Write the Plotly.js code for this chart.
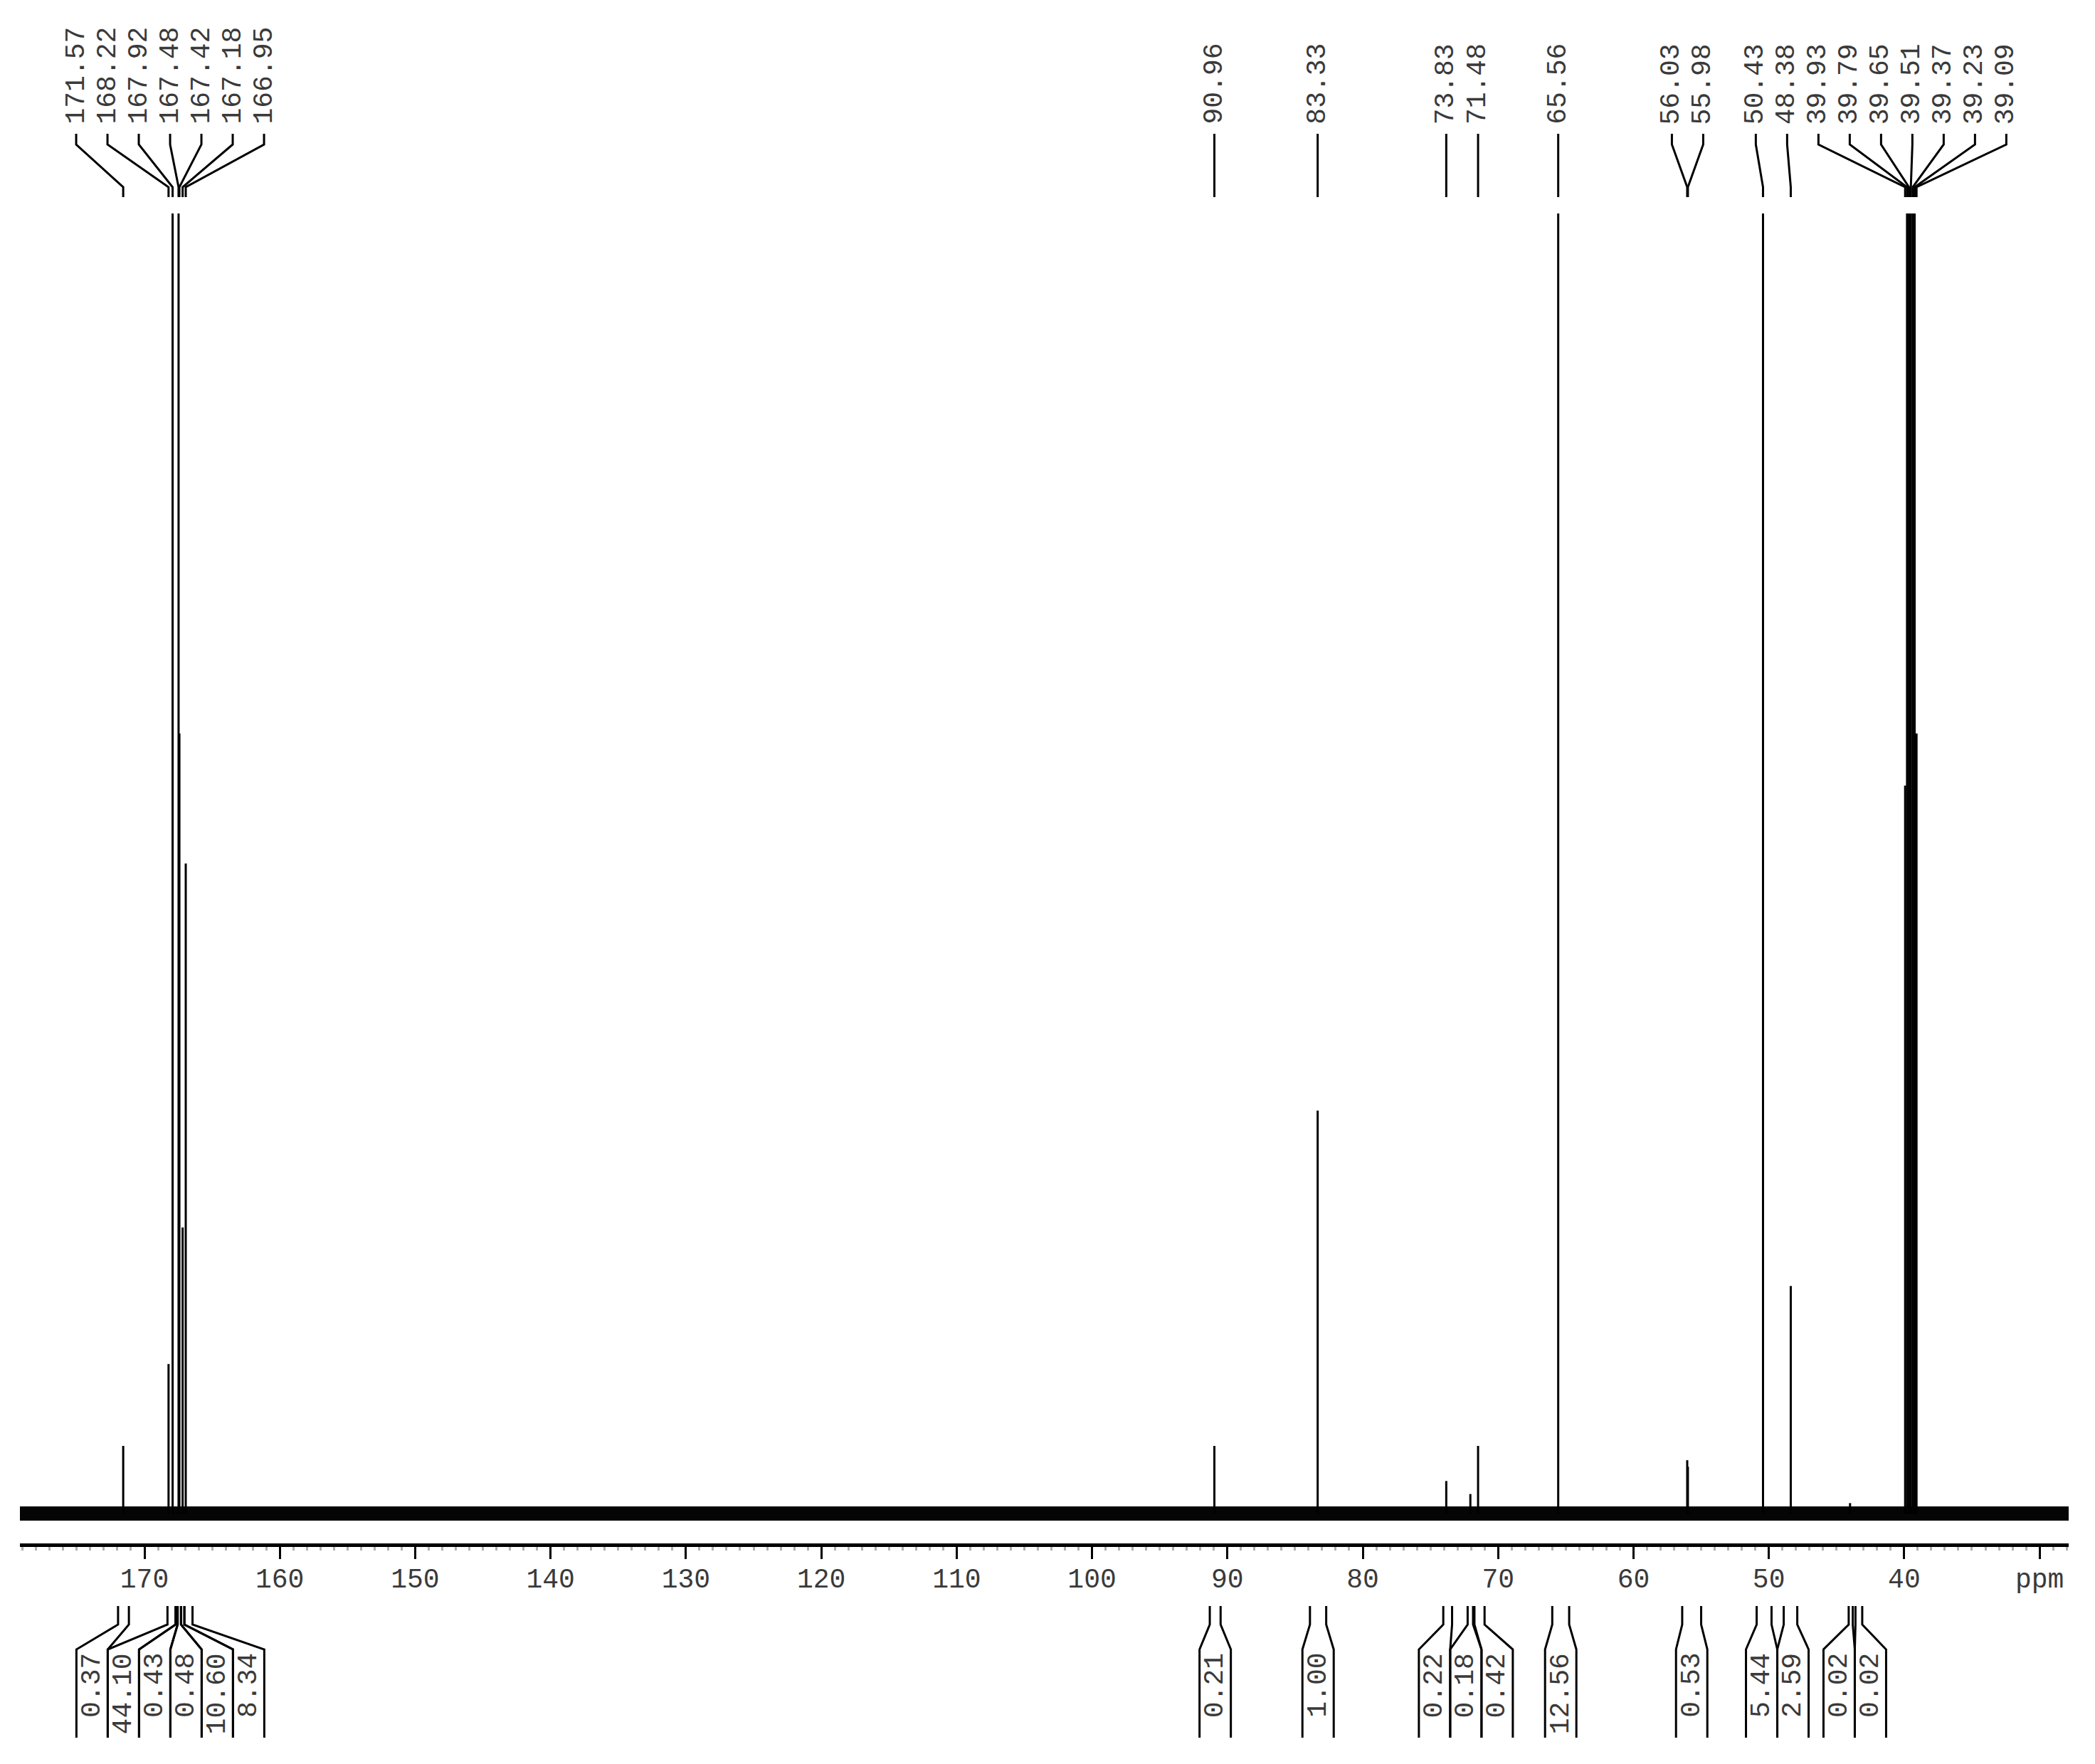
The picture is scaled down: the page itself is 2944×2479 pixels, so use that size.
<!DOCTYPE html>
<html>
<head>
<meta charset="utf-8">
<script src="https://cdn.plot.ly/plotly-3.0.1.min.js"></script>
<style>
  html, body { margin: 0; padding: 0; background: #fff; }
  #chart { width: 2944px; height: 2479px; }
</style>
</head>
<body>
<div id="chart"></div>
<script>
// 13C NMR spectrum, DMSO-d6 — peak picking on top, integrals below the axis

// labelled lines: shift (ppm) and height (100 = top of the frame, taller ones are clipped)
const peakPpm = [171.57, 168.22, 167.92, 167.48, 167.42, 167.18, 166.95,
    90.96, 83.33, 73.83, 71.48, 65.56, 56.03, 55.98, 50.43, 48.38,
    39.93, 39.79, 39.65, 39.51, 39.37, 39.23, 39.09];
const peakHeight = [5.2, 11.5, 140, 140, 60, 22, 50,
    5.2, 31, 2.5, 5.2, 140, 4.1, 3.6, 140, 17.5,
    56, 170, 300, 350, 300, 170, 60];

// small lines without a label
const extraPpm = [72.05, 44.0];
const extraHeight = [1.5, 0.8];

// integral regions (ppm) and their values
const intFrom = [171.95, 168.30, 167.70, 167.55, 167.30, 167.05,
    91.30, 83.90, 74.05, 72.25, 71.75, 66.00, 56.40, 50.90, 48.90, 44.10, 43.60];
const intTo = [171.15, 167.70, 167.55, 167.30, 167.05, 166.45,
    90.50, 82.70, 73.40, 71.85, 71.00, 64.75, 55.00, 49.80, 47.90, 43.80, 43.10];
const intValue = ['0.37', '44.10', '0.43', '0.48', '10.60', '8.34',
    '0.21', '1.00', '0.22', '0.18', '0.42', '12.56', '0.53', '5.44', '2.59', '0.02', '0.02'];

// axis ticks
const tickVals = [170, 160, 150, 140, 130, 120, 110, 100, 90, 80, 70, 60, 50, 40, 30];
const tickText = ['170', '160', '150', '140', '130', '120', '110', '100', '90', '80', '70', '60', '50', '40', 'ppm'];

// ── frame geometry (px) ──
const W = 2944, H = 2479;
const M = { l: 28, r: 37, t: 300, b: 310 };
const X_RANGE = [179.2, 27.85];
const BASE_PX = 2127;                      // baseline row
const PLOT_TOP = M.t, PLOT_BOT = H - M.b;
const Y_MIN = -(PLOT_BOT - BASE_PX) / (BASE_PX - PLOT_TOP) * 100;
const PX_PER_PPM = (W - M.l - M.r) / (X_RANGE[0] - X_RANGE[1]);
const LABEL_GAP = 44;

const FONT = { family: 'Liberation Mono, Courier New, monospace', size: 38, color: '#3a3a3a' };

const toPx = ppm => M.l + (X_RANGE[0] - ppm) * PX_PER_PPM;
const toPpm = px => X_RANGE[0] - (px - M.l) / PX_PER_PPM;
const paperY = py => (PLOT_BOT - py) / (PLOT_BOT - PLOT_TOP);

// spread crowded labels into evenly spaced runs centred on their lines
function spreadLabels(centers, gap) {
    let groups = centers.map((c, i) => ({ idx: [i], mean: c }));
    let merged = true;
    while (merged) {
        merged = false;
        for (let i = 0; i < groups.length - 1; i++) {
            const a = groups[i], b = groups[i + 1];
            const aLast = a.mean + (a.idx.length - 1) / 2 * gap;
            const bFirst = b.mean - (b.idx.length - 1) / 2 * gap;
            if (bFirst - aLast < gap) {
                const idx = a.idx.concat(b.idx);
                const mean = idx.reduce((s, k) => s + centers[k], 0) / idx.length;
                groups.splice(i, 2, { idx, mean });
                merged = true;
                break;
            }
        }
    }
    const out = new Array(centers.length);
    groups.forEach(g => g.idx.forEach((k, j) => {
        out[k] = g.mean + (j - (g.idx.length - 1) / 2) * gap;
    }));
    return out;
}

// ── traces ──
const stickX = [], stickY = [];
peakPpm.concat(extraPpm).forEach((p, i) => {
    const h = peakHeight.concat(extraHeight)[i];
    stickX.push(p, p, null);
    stickY.push(0, h, null);
});

// baseline noise drawn as a band
const noiseBand = {
    x: [X_RANGE[0], X_RANGE[1]], y: [0, 0],
    mode: 'lines', line: { color: '#050505', width: 20 },
    hoverinfo: 'skip', showlegend: false
};
const sticks = {
    x: stickX, y: stickY,
    mode: 'lines', line: { color: '#000', width: 3 },
    hoverinfo: 'skip', showlegend: false
};

// ── peak labels (top) ──
const shapes = [];
const annotations = [];
const LINE = { color: '#000', width: 3 };

const peakPx = peakPpm.map(toPx);
const labelPx = spreadLabels(peakPx, LABEL_GAP);
peakPpm.forEach((p, i) => {
    const lx = toPpm(labelPx[i]);
    shapes.push({
        type: 'path', xref: 'x', yref: 'paper', line: LINE,
        path: `M ${lx},${paperY(188)} L ${lx},${paperY(203)} L ${p},${paperY(263)} L ${p},${paperY(277)}`
    });
    annotations.push({
        x: lx, xref: 'x', y: paperY(176), yref: 'paper',
        xanchor: 'center', yanchor: 'bottom', textangle: -90,
        text: p.toFixed(2), showarrow: false, font: FONT, borderpad: 0
    });
});

// ── integrals (bottom) ──
const intCenterPx = intFrom.map((f, i) => (toPx(f) + toPx(intTo[i])) / 2);
const bracketPx = spreadLabels(intCenterPx, LABEL_GAP);
intValue.forEach((v, i) => {
    const left = toPpm(bracketPx[i] - LABEL_GAP / 2);
    const right = toPpm(bracketPx[i] + LABEL_GAP / 2);
    [[intFrom[i], left], [intTo[i], right]].forEach(([edge, br]) => {
        shapes.push({
            type: 'path', xref: 'x', yref: 'paper', line: LINE,
            path: `M ${edge},${paperY(2257)} L ${edge},${paperY(2283)} L ${br},${paperY(2318)} L ${br},${paperY(2442)}`
        });
    });
    annotations.push({
        x: toPpm(bracketPx[i]), xref: 'x', y: paperY(2322), yref: 'paper',
        xanchor: 'center', yanchor: 'top', textangle: -90,
        text: v, showarrow: false, font: FONT, borderpad: 0
    });
});

const layout = {
    width: W, height: H,
    margin: M,
    showlegend: false,
    plot_bgcolor: '#fff', paper_bgcolor: '#fff',
    xaxis: {
        range: X_RANGE,
        showline: true, linewidth: 5, linecolor: '#000',
        ticks: 'outside', ticklen: 17, tickwidth: 3, tickcolor: '#000',
        tickmode: 'array', tickvals: tickVals, ticktext: tickText,
        tickfont: FONT, ticklabelstandoff: -6,
        minor: { ticks: 'outside', ticklen: 5, tickwidth: 3, tickcolor: '#b0b0b0', tick0: 0, dtick: 1 },
        showgrid: false, zeroline: false, fixedrange: true
    },
    yaxis: { range: [Y_MIN, 100], visible: false, fixedrange: true },
    shapes: shapes,
    annotations: annotations
};

Plotly.newPlot('chart', [noiseBand, sticks], layout, { displayModeBar: false, staticPlot: true });
</script>
</body>
</html>
